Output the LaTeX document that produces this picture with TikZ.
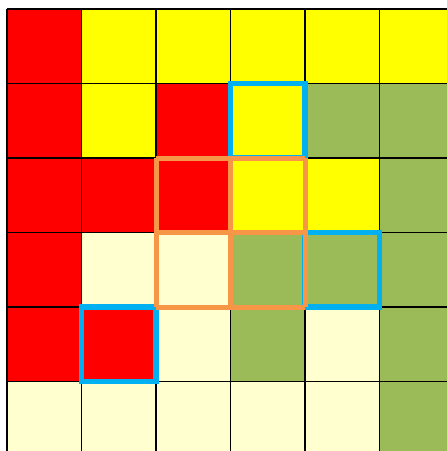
\documentclass[tikz,border=0pt]{standalone}
\definecolor{cR}{HTML}{FF0000}
\definecolor{cY}{HTML}{FFFF00}
\definecolor{cG}{HTML}{9BBB59}
\definecolor{cL}{HTML}{FFFFD0}
\definecolor{cO}{HTML}{F79646}
\definecolor{cB}{HTML}{00B0F0}
\tikzset{
  gridline/.style={draw=black, line width=1.5pt},
  orangebox/.style={draw=cO, line width=5pt},
  bluebox/.style={draw=cB, line width=5.5pt},
}
\begin{document}
\begin{tikzpicture}[x=1pt,y=-1pt]
\useasboundingbox (0,0) rectangle (447,451);
\fill[white] (0,0) rectangle (447,451);
\begin{scope}
\clip (0,0) rectangle (447,451);
\def\cs{74.5}
\def\ox{7}
\def\oy{9}
\foreach \row/\cols in {0/{cR,cY,cY,cY,cY,cY},1/{cR,cY,cR,cY,cG,cG},2/{cR,cR,cR,cY,cY,cG},3/{cR,cL,cL,cG,cG,cG},4/{cR,cR,cL,cG,cL,cG},5/{cL,cL,cL,cL,cL,cG}}{
  \foreach \c [count=\col from 0] in \cols {
    \fill[\c] ({\ox+\col*\cs},{\oy+\row*\cs}) rectangle ++(\cs,\cs);
  }
}
\foreach \i in {0,...,6}{
  \draw[gridline] ({\ox+\i*\cs},\oy) -- ({\ox+\i*\cs},{\oy+6*\cs});
  \draw[gridline] (\ox,{\oy+\i*\cs}) -- ({\ox+6*\cs},{\oy+\i*\cs});
}
% blue boxes
\foreach \col/\row in {3/1,4/3,1/4}{
  \draw[bluebox] ({\ox+\col*\cs},{\oy+\row*\cs}) rectangle ++(\cs,\cs);
}
% orange 2x2
\foreach \i in {0,1,2}{
  \draw[orangebox] ({\ox+(2+\i)*\cs},{\oy+2*\cs}) -- ({\ox+(2+\i)*\cs},{\oy+4*\cs});
  \draw[orangebox] ({\ox+2*\cs},{\oy+(2+\i)*\cs}) -- ({\ox+4*\cs},{\oy+(2+\i)*\cs});
}
\end{scope}
\end{tikzpicture}
\end{document}
